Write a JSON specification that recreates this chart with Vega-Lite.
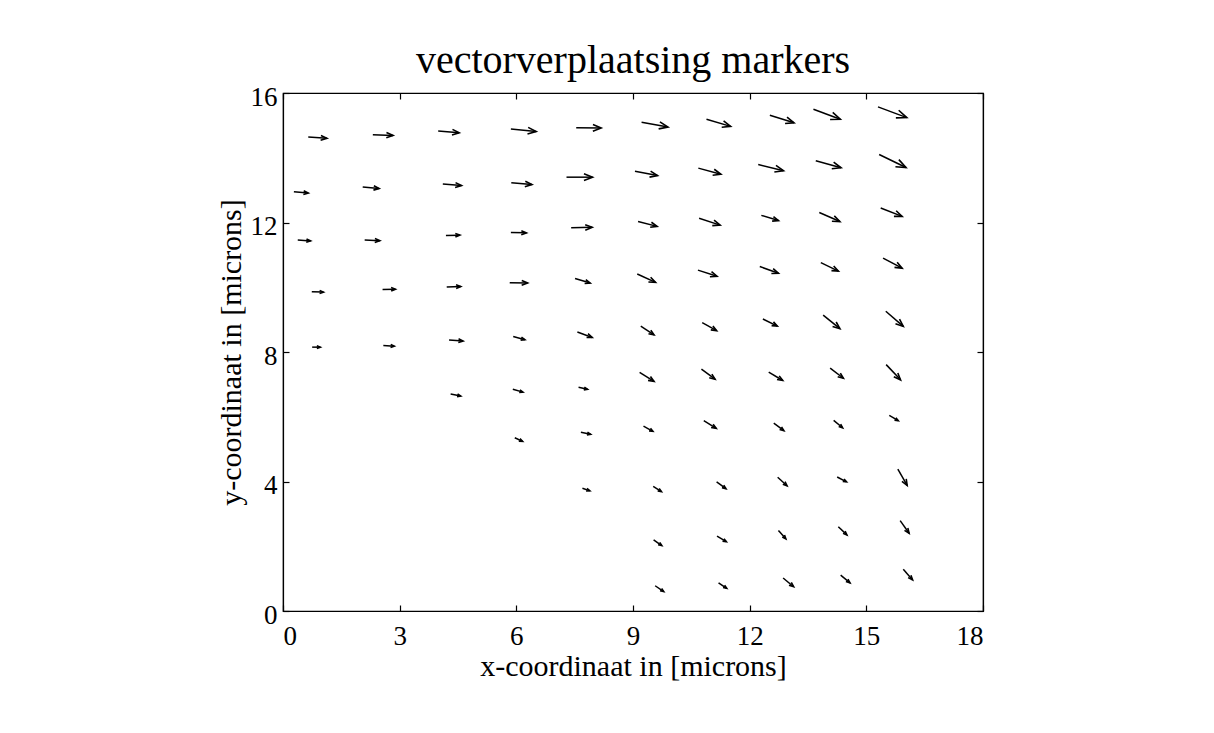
{
  "$schema": "https://vega.github.io/schema/vega-lite/v6.json",
  "autosize": {"type": "none"},
  "width": 700,
  "height": 518,
  "padding": {"left": 283, "top": 93, "right": 231, "bottom": 122},
  "background": "white",
  "title": {
    "text": "vectorverplaatsing markers",
    "font": "Liberation Serif",
    "fontSize": 40,
    "fontWeight": "normal",
    "color": "black",
    "anchor": "middle",
    "offset": 2
  },
  "config": {
    "view": {"stroke": "black", "strokeWidth": 1.2},
    "axis": {
      "grid": false,
      "domainColor": "black",
      "domainWidth": 1.2,
      "tickColor": "black",
      "tickWidth": 1.2,
      "tickSize": -6,
      "labelFont": "Liberation Serif",
      "labelFontSize": 27,
      "labelColor": "black",
      "titleFont": "Liberation Serif",
      "titleFontSize": 30,
      "titleFontWeight": "normal",
      "titleColor": "black"
    }
  },
  "data": {
    "values": [
      {"x": 0.65, "y": 14.64, "xh": 1.13, "yh": 14.60},
      {"x": 2.31, "y": 14.71, "xh": 2.83, "yh": 14.69},
      {"x": 3.99, "y": 14.83, "xh": 4.53, "yh": 14.77},
      {"x": 5.86, "y": 14.89, "xh": 6.51, "yh": 14.81},
      {"x": 7.54, "y": 14.93, "xh": 8.18, "yh": 14.92},
      {"x": 9.22, "y": 15.10, "xh": 9.90, "yh": 14.95},
      {"x": 10.89, "y": 15.19, "xh": 11.51, "yh": 14.97},
      {"x": 12.52, "y": 15.31, "xh": 13.14, "yh": 15.08},
      {"x": 13.64, "y": 15.50, "xh": 14.33, "yh": 15.19},
      {"x": 15.30, "y": 15.57, "xh": 16.04, "yh": 15.24},

      {"x": 0.28, "y": 12.95, "xh": 0.65, "yh": 12.91},
      {"x": 2.05, "y": 13.10, "xh": 2.47, "yh": 13.05},
      {"x": 4.11, "y": 13.19, "xh": 4.59, "yh": 13.14},
      {"x": 5.87, "y": 13.23, "xh": 6.40, "yh": 13.17},
      {"x": 7.29, "y": 13.40, "xh": 7.96, "yh": 13.40},
      {"x": 9.05, "y": 13.58, "xh": 9.63, "yh": 13.45},
      {"x": 10.68, "y": 13.68, "xh": 11.26, "yh": 13.49},
      {"x": 12.22, "y": 13.79, "xh": 12.87, "yh": 13.60},
      {"x": 13.70, "y": 13.91, "xh": 14.35, "yh": 13.69},
      {"x": 15.33, "y": 14.10, "xh": 16.02, "yh": 13.70},

      {"x": 0.38, "y": 11.46, "xh": 0.71, "yh": 11.43},
      {"x": 2.10, "y": 11.46, "xh": 2.49, "yh": 11.44},
      {"x": 4.19, "y": 11.60, "xh": 4.55, "yh": 11.61},
      {"x": 5.86, "y": 11.69, "xh": 6.26, "yh": 11.68},
      {"x": 7.41, "y": 11.84, "xh": 7.95, "yh": 11.85},
      {"x": 9.13, "y": 12.03, "xh": 9.62, "yh": 11.88},
      {"x": 10.70, "y": 12.13, "xh": 11.24, "yh": 11.92},
      {"x": 12.30, "y": 12.22, "xh": 12.74, "yh": 12.06},
      {"x": 13.79, "y": 12.31, "xh": 14.32, "yh": 12.03},
      {"x": 15.37, "y": 12.45, "xh": 15.92, "yh": 12.19},

      {"x": 0.74, "y": 9.86, "xh": 1.04, "yh": 9.85},
      {"x": 2.56, "y": 9.93, "xh": 2.89, "yh": 9.94},
      {"x": 4.21, "y": 10.01, "xh": 4.57, "yh": 10.02},
      {"x": 5.83, "y": 10.14, "xh": 6.29, "yh": 10.13},
      {"x": 7.51, "y": 10.27, "xh": 7.90, "yh": 10.13},
      {"x": 9.11, "y": 10.41, "xh": 9.58, "yh": 10.15},
      {"x": 10.67, "y": 10.53, "xh": 11.16, "yh": 10.34},
      {"x": 12.26, "y": 10.64, "xh": 12.74, "yh": 10.43},
      {"x": 13.83, "y": 10.76, "xh": 14.28, "yh": 10.50},
      {"x": 15.43, "y": 10.90, "xh": 15.92, "yh": 10.59},

      {"x": 0.75, "y": 8.15, "xh": 0.96, "yh": 8.15},
      {"x": 2.58, "y": 8.20, "xh": 2.86, "yh": 8.18},
      {"x": 4.27, "y": 8.37, "xh": 4.63, "yh": 8.34},
      {"x": 5.92, "y": 8.48, "xh": 6.22, "yh": 8.38},
      {"x": 7.57, "y": 8.62, "xh": 7.95, "yh": 8.45},
      {"x": 9.20, "y": 8.80, "xh": 9.54, "yh": 8.53},
      {"x": 10.78, "y": 8.91, "xh": 11.15, "yh": 8.66},
      {"x": 12.34, "y": 9.02, "xh": 12.71, "yh": 8.80},
      {"x": 13.89, "y": 9.14, "xh": 14.32, "yh": 8.72},
      {"x": 15.50, "y": 9.26, "xh": 15.95, "yh": 8.79},

      {"x": 4.31, "y": 6.70, "xh": 4.57, "yh": 6.64},
      {"x": 5.91, "y": 6.85, "xh": 6.17, "yh": 6.76},
      {"x": 7.60, "y": 6.91, "xh": 7.83, "yh": 6.85},
      {"x": 9.17, "y": 7.37, "xh": 9.54, "yh": 7.09},
      {"x": 10.76, "y": 7.47, "xh": 11.11, "yh": 7.16},
      {"x": 12.49, "y": 7.38, "xh": 12.85, "yh": 7.12},
      {"x": 14.07, "y": 7.50, "xh": 14.41, "yh": 7.19},
      {"x": 15.51, "y": 7.61, "xh": 15.88, "yh": 7.14},

      {"x": 5.96, "y": 5.35, "xh": 6.16, "yh": 5.24},
      {"x": 7.66, "y": 5.52, "xh": 7.91, "yh": 5.46},
      {"x": 9.27, "y": 5.71, "xh": 9.51, "yh": 5.55},
      {"x": 10.82, "y": 5.88, "xh": 11.14, "yh": 5.64},
      {"x": 12.62, "y": 5.80, "xh": 12.88, "yh": 5.57},
      {"x": 14.16, "y": 5.89, "xh": 14.39, "yh": 5.66},
      {"x": 15.59, "y": 6.04, "xh": 15.82, "yh": 5.88},

      {"x": 7.70, "y": 3.79, "xh": 7.89, "yh": 3.71},
      {"x": 9.52, "y": 3.85, "xh": 9.73, "yh": 3.69},
      {"x": 11.15, "y": 3.99, "xh": 11.39, "yh": 3.78},
      {"x": 12.72, "y": 4.13, "xh": 12.96, "yh": 3.87},
      {"x": 14.25, "y": 4.14, "xh": 14.49, "yh": 3.99},
      {"x": 15.81, "y": 4.38, "xh": 16.05, "yh": 3.88},

      {"x": 9.53, "y": 2.20, "xh": 9.74, "yh": 2.02},
      {"x": 11.16, "y": 2.31, "xh": 11.40, "yh": 2.14},
      {"x": 12.74, "y": 2.49, "xh": 12.93, "yh": 2.23},
      {"x": 14.28, "y": 2.60, "xh": 14.50, "yh": 2.35},
      {"x": 15.87, "y": 2.79, "xh": 16.10, "yh": 2.40},

      {"x": 9.57, "y": 0.78, "xh": 9.79, "yh": 0.60},
      {"x": 11.20, "y": 0.87, "xh": 11.41, "yh": 0.70},
      {"x": 12.86, "y": 1.02, "xh": 13.13, "yh": 0.75},
      {"x": 14.34, "y": 1.11, "xh": 14.58, "yh": 0.87},
      {"x": 15.95, "y": 1.29, "xh": 16.19, "yh": 0.96}
    ]
  },
  "layer": [
    {
      "mark": {"type": "rule", "color": "black", "strokeWidth": 1.5},
      "encoding": {
        "x": {
          "field": "x",
          "type": "quantitative",
          "scale": {"domain": [0, 18], "nice": false, "zero": false},
          "axis": {
            "orient": "bottom",
            "values": [0, 3, 6, 9, 12, 15, 18],
            "labelPadding": 18,
            "title": "x-coordinaat in [microns]",
            "titlePadding": 2
          }
        },
        "y": {
          "field": "y",
          "type": "quantitative",
          "scale": {"domain": [0, 16], "nice": false, "zero": false},
          "axis": {
            "orient": "left",
            "values": [0, 4, 8, 12, 16],
            "labelPadding": 12,
            "labelOffset": 4,
            "title": "y-coordinaat in [microns]",
            "titlePadding": 4
          }
        },
        "x2": {"field": "xh"},
        "y2": {"field": "yh"}
      }
    },
    {
      "transform": [
        {"calculate": "(datum.xh - datum.x) * 700 / 18", "as": "dxp"},
        {"calculate": "-(datum.yh - datum.y) * 518 / 16", "as": "dyp"},
        {"calculate": "atan2(datum.dyp, datum.dxp) * 180 / PI", "as": "headAngle"},
        {"calculate": "pow(2 * max(3.5, 0.33 * sqrt(datum.dxp * datum.dxp + datum.dyp * datum.dyp)), 2)", "as": "headSize"}
      ],
      "mark": {
        "type": "point",
        "shape": "M-1,-0.4L0,0L-1,0.4",
        "filled": false,
        "stroke": "black",
        "strokeWidth": 1.6,
        "opacity": 1
      },
      "encoding": {
        "x": {
          "field": "xh",
          "type": "quantitative",
          "axis": {"orient": "top", "values": [0, 3, 6, 9, 12, 15, 18], "labels": false, "title": null}
        },
        "y": {
          "field": "yh",
          "type": "quantitative",
          "axis": {"orient": "right", "values": [0, 4, 8, 12, 16], "labels": false, "title": null}
        },
        "angle": {"field": "headAngle", "type": "quantitative", "scale": null},
        "size": {"field": "headSize", "type": "quantitative", "scale": null, "legend": null}
      }
    }
  ],
  "resolve": {"axis": {"x": "independent", "y": "independent"}}
}
